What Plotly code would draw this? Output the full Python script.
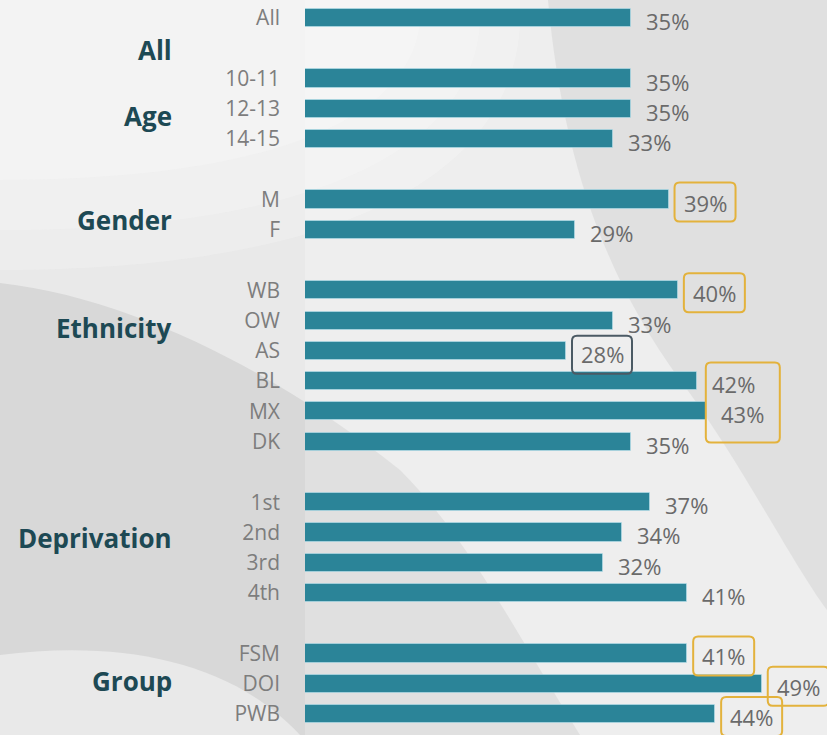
import plotly.graph_objects as go

# ---- data -------------------------------------------------------------
groups = ["All", "Age", "Gender", "Ethnicity", "Deprivation", "Group"]
categories = [
    ["All"],
    ["10-11", "12-13", "14-15"],
    ["M", "F"],
    ["WB", "OW", "AS", "BL", "MX", "DK"],
    ["1st", "2nd", "3rd", "4th"],
    ["FSM", "DOI", "PWB"],
]
values = [
    [35],
    [35, 35, 33],
    [39, 29],
    [40, 33, 28, 42, 43, 35],
    [37, 34, 32, 41],
    [41, 49, 44],
]
high_single = ["M", "WB", "FSM", "DOI", "PWB"]   # gold outline
low_single = ["AS"]                               # dark outline
high_pair = ("BL", "MX")                          # one gold outline for both

# ---- layout constants -------------------------------------------------
W, H = 827, 735
ML = 305
BAR = "#2b8498"
GOLD = "#e3b23c"
SLATE = "#4b5a64"
HEAD = "#1d4954"
TXT = "#6a6a6a"
TICK = "#7d7d7d"
FONT = "Open Sans"

# slots: one blank row between groups
slot_cat, slot_val, slot_pos = [], [], []
group_first = []
s = 0
for cats, vals in zip(categories, values):
    group_first.append(s)
    for c, v in zip(cats, vals):
        slot_cat.append(c)
        slot_val.append(v)
        slot_pos.append(s)
        s += 1
    s += 1
lookup = {c: (v, p) for c, v, p in zip(slot_cat, slot_val, slot_pos)}

# heading offsets from each group's first row
head_offset = [1.06, 1.24, 0.68, 1.24, 1.18, 0.91]

fig = go.Figure()
fig.add_trace(go.Bar(
    x=slot_val, y=slot_pos, orientation="h", width=0.6,
    marker=dict(color=BAR, line=dict(color="rgba(190,230,240,0.55)", width=1)),
    hoverinfo="skip", showlegend=False,
))

# ---- background ---------------------------------------------------------
def P(x, y):
    return f"{(x - ML) / (W - ML):.4f},{1 - y / H:.4f}"

def path(cmds):
    out = []
    for c in cmds:
        op, pts = c[0], c[1:]
        out.append(op + " ".join(P(*p) for p in pts))
    return " ".join(out) + " Z"

shapes = []
light = path([
    ("M", (0, 0)), ("L", (548, 0)),
    ("C", (562, 150), (600, 270), (680, 380)),
    ("C", (740, 460), (790, 560), (827, 610)),
    ("L", (827, 735)), ("L", (580, 735)),
    ("C", (520, 640), (470, 540), (400, 470)),
    ("C", (300, 390), (150, 300), (0, 283)),
])
shapes.append(dict(type="path", xref="paper", yref="paper", path=light,
                   fillcolor="#e9e9e9", line=dict(width=0), layer="below"))
# soft brighter layers towards the top-left corner
for k, (a, b, alpha) in enumerate([(520, 270, 0.25), (480, 230, 0.25), (420, 180, 0.25)]):
    shapes.append(dict(type="path", xref="paper", yref="paper",
                       path=path([("M", (0, 0)), ("L", (a, 0)),
                                  ("C", (a + 10, b * 0.6), (a * 0.7, b), (0, b))]),
                       fillcolor=f"rgba(250,250,250,{alpha})", line=dict(width=0),
                       layer="below"))
foot = path([
    ("M", (0, 655)), ("C", (120, 640), (230, 660), (300, 735)), ("L", (0, 735)),
])
shapes.append(dict(type="path", xref="paper", yref="paper", path=foot,
                   fillcolor="#e9e9e9", line=dict(width=0), layer="below"))
shapes.append(dict(type="rect", xref="paper", yref="paper", x0=0, x1=1, y0=0, y1=1,
                   fillcolor="rgba(255,255,255,0.22)", line=dict(width=0), layer="below"))

# ---- rounded outline boxes around highlighted values --------------------
def rounded(x0, x1, y0, y1, r=5):
    # pixel offsets, y measured downward on screen
    y0, y1 = -y0, -y1
    return (f"M{x0 + r},{y0} L{x1 - r},{y0} Q{x1},{y0} {x1},{y0 - r} "
            f"L{x1},{y1 + r} Q{x1},{y1} {x1 - r},{y1} L{x0 + r},{y1} "
            f"Q{x0},{y1} {x0},{y1 + r} L{x0},{y0 - r} Q{x0},{y0} {x0 + r},{y0} Z")

def box(anchor_val, anchor_slot, x0, x1, y0, y1, color):
    return dict(type="path", xref="x", yref="y",
                xsizemode="pixel", ysizemode="pixel",
                xanchor=anchor_val, yanchor=anchor_slot,
                path=rounded(x0, x1, y0, y1),
                line=dict(color=color, width=2), fillcolor="rgba(0,0,0,0)")

for c in high_single:
    v, p = lookup[c]
    shapes.append(box(v, p, 6, 67, -17, 22, GOLD))
for c in low_single:
    v, p = lookup[c]
    shapes.append(box(v, p, 6, 66, -15, 23, SLATE))
(v1, p1), (v2, p2) = lookup[high_pair[0]], lookup[high_pair[1]]
vmax = max(v1, v2)
shapes.append(box(vmax, p2, 0, 74, -49, 31, GOLD))

# ---- annotations ------------------------------------------------------
ann = []
for c, v, p in zip(slot_cat, slot_val, slot_pos):
    ann.append(dict(x=v, y=p, xref="x", yref="y", text=f"{v}%", showarrow=False,
                    xanchor="left", yanchor="middle", xshift=13, yshift=-3,
                    font=dict(family=FONT, size=22, color=TXT)))
for g, first, off in zip(groups, group_first, head_offset):
    ann.append(dict(x=(174 - ML) / (W - ML), y=first + off, xref="paper", yref="y",
                    text=f"<b>{g}</b>", showarrow=False, xanchor="right",
                    yanchor="middle",
                    font=dict(family=FONT, size=26, color=HEAD)))

px_per_slot = 30.26
top = -18 / px_per_slot
bottom = top + H / px_per_slot

fig.update_layout(
    width=W, height=H,
    margin=dict(l=ML, r=0, t=0, b=0),
    paper_bgcolor="#d8d8d8",
    plot_bgcolor="rgba(0,0,0,0)",
    shapes=shapes,
    annotations=ann,
    bargap=0,
    xaxis=dict(range=[0, 56], visible=False, fixedrange=True),
    yaxis=dict(range=[bottom, top], tickvals=slot_pos, ticktext=slot_cat,
               showgrid=False, zeroline=False, showline=False, ticks="",
               ticklabelstandoff=24,
               tickfont=dict(family=FONT, size=21, color=TICK), fixedrange=True),
)

fig.write_html("out.html", config={"displayModeBar": False})
